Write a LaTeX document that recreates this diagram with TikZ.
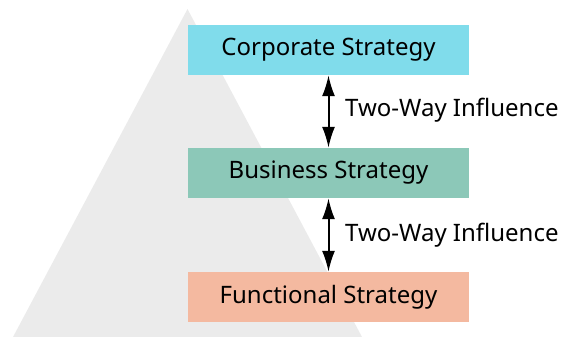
\documentclass[tikz,border=0pt]{standalone}
\usepackage{fontspec}
\setmainfont{Noto Sans}
\usetikzlibrary{arrows.meta}
\definecolor{corpcol}{HTML}{80DCEB}
\definecolor{buscol}{HTML}{8CC8B8}
\definecolor{funccol}{HTML}{F4B9A0}
\definecolor{pyrcol}{HTML}{EBEBEB}
\tikzset{
  level/.style={minimum width=281pt, minimum height=50pt, inner sep=0pt, font=\fontsize{24}{28}\selectfont},
  influence/.style={anchor=base west, inner sep=0pt, font=\fontsize{24}{28}\selectfont},
  twoway/.style={{Latex[length=21pt,width=13pt]}-{Latex[length=21pt,width=13pt]}, line width=2pt}
}
\begin{document}
\begin{tikzpicture}[x=1pt,y=-1pt]
      \useasboundingbox (0,0) rectangle (563,337);
      \fill[pyrcol] (187.5,9) -- (362,337) -- (13,337) -- cycle;
      \draw
        (328.5,50) node[level, fill=corpcol] (corp){Corporate Strategy}
        (328.5,173) node[level, fill=buscol] (bus){Business Strategy}
        (328.5,297) node[level, fill=funccol] (func){Functional Strategy}
        (345,117) node[influence] (inf1){Two-Way Influence}
        (345,241) node[influence] (inf2){Two-Way Influence};
      \begin{scope}[twoway]
        \draw (corp) to (bus);
        \draw (bus) to (func);
      \end{scope}
    \end{tikzpicture}
\end{document}
